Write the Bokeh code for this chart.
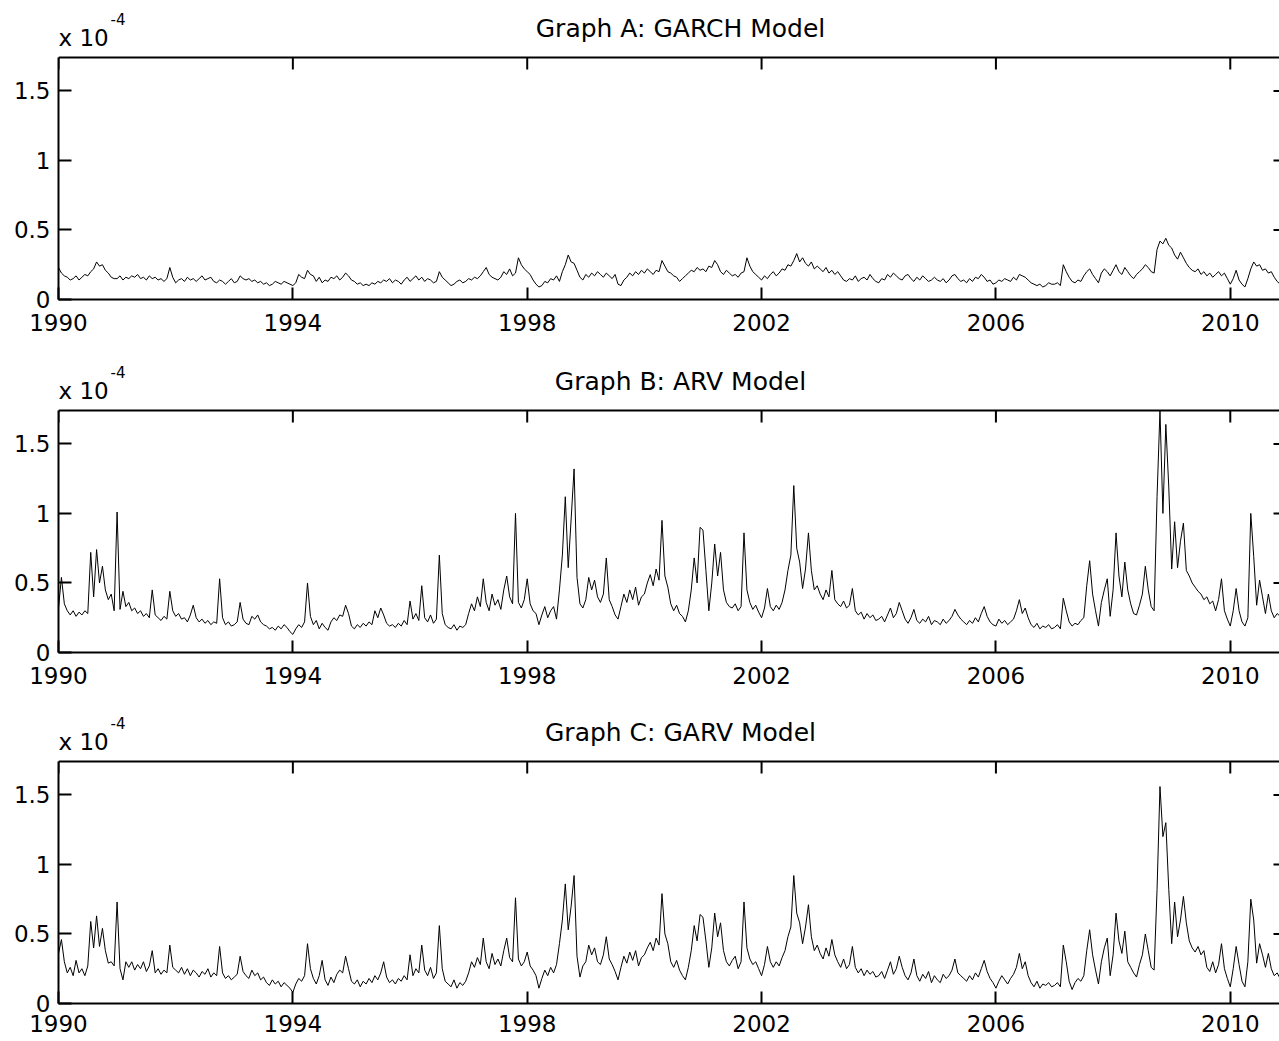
from bokeh.plotting import figure
from bokeh.layouts import column
from bokeh.models import Range1d, FixedTicker, Label, Span
from bokeh.embed import file_html
from bokeh.resources import INLINE

# ---------------- data (values in units of 1e-4), one row per year, 1990..2010 ----------------
START_YEAR = 1990

garch_rows = [
    [0.23,0.19,0.17,0.16,0.14,0.15,0.17,0.14,0.16,0.18,0.17,0.20,0.22,0.27,0.24,0.25,0.21,0.19,0.16,0.15],
    [0.15,0.17,0.14,0.16,0.15,0.17,0.16,0.18,0.15,0.16,0.14,0.17,0.15,0.16,0.14,0.15,0.13,0.15,0.23,0.16],
    [0.12,0.14,0.15,0.13,0.16,0.14,0.15,0.13,0.15,0.17,0.14,0.15,0.16,0.13,0.12,0.14,0.13,0.11,0.13,0.15],
    [0.12,0.13,0.17,0.15,0.14,0.15,0.13,0.14,0.12,0.13,0.11,0.12,0.10,0.11,0.13,0.12,0.11,0.13,0.12,0.11],
    [0.10,0.12,0.18,0.16,0.15,0.21,0.18,0.17,0.13,0.16,0.12,0.14,0.13,0.16,0.15,0.17,0.14,0.16,0.19,0.17],
    [0.14,0.13,0.11,0.12,0.10,0.11,0.10,0.12,0.11,0.13,0.12,0.14,0.13,0.15,0.12,0.14,0.13,0.11,0.14,0.16],
    [0.13,0.15,0.17,0.14,0.16,0.13,0.15,0.14,0.12,0.13,0.20,0.16,0.14,0.12,0.10,0.11,0.13,0.14,0.12,0.13],
    [0.15,0.14,0.16,0.15,0.17,0.20,0.23,0.18,0.16,0.15,0.14,0.16,0.20,0.18,0.22,0.17,0.19,0.30,0.25,0.22],
    [0.20,0.18,0.14,0.11,0.09,0.10,0.13,0.12,0.15,0.14,0.17,0.13,0.20,0.25,0.32,0.27,0.26,0.21,0.16,0.14],
    [0.18,0.16,0.19,0.17,0.20,0.18,0.16,0.19,0.17,0.15,0.18,0.11,0.10,0.14,0.16,0.19,0.17,0.20,0.18,0.21],
    [0.19,0.22,0.20,0.18,0.21,0.20,0.28,0.24,0.20,0.19,0.17,0.16,0.13,0.15,0.17,0.19,0.21,0.20,0.23,0.21],
    [0.22,0.20,0.24,0.23,0.28,0.25,0.20,0.18,0.21,0.19,0.17,0.18,0.16,0.19,0.20,0.30,0.24,0.20,0.18,0.16],
    [0.14,0.17,0.15,0.18,0.20,0.17,0.19,0.22,0.21,0.25,0.24,0.28,0.33,0.27,0.30,0.26,0.24,0.27,0.22,0.24],
    [0.22,0.20,0.23,0.19,0.21,0.18,0.20,0.17,0.14,0.13,0.15,0.14,0.17,0.13,0.15,0.16,0.14,0.18,0.15,0.13],
    [0.12,0.15,0.14,0.18,0.16,0.19,0.17,0.15,0.14,0.17,0.18,0.15,0.13,0.16,0.14,0.17,0.15,0.13,0.14,0.16],
    [0.14,0.13,0.15,0.12,0.14,0.17,0.18,0.15,0.13,0.14,0.12,0.15,0.13,0.16,0.15,0.18,0.16,0.13,0.14,0.11],
    [0.12,0.14,0.13,0.15,0.14,0.13,0.16,0.14,0.18,0.17,0.16,0.14,0.12,0.11,0.10,0.11,0.09,0.10,0.12,0.11],
    [0.11,0.12,0.10,0.25,0.20,0.16,0.13,0.12,0.14,0.13,0.17,0.20,0.22,0.18,0.15,0.12,0.19,0.22,0.20,0.17],
    [0.21,0.25,0.20,0.18,0.23,0.20,0.17,0.15,0.18,0.20,0.22,0.25,0.23,0.20,0.19,0.36,0.42,0.40,0.44,0.39],
    [0.37,0.32,0.29,0.34,0.30,0.26,0.23,0.21,0.20,0.22,0.18,0.20,0.17,0.19,0.16,0.18,0.20,0.17,0.19,0.15],
    [0.11,0.15,0.21,0.14,0.11,0.09,0.15,0.22,0.27,0.24,0.25,0.21,0.22,0.19,0.20,0.16,0.13,0.11,0.12,0.11],
]

arv_rows = [
    [0.32,0.54,0.35,0.30,0.27,0.30,0.26,0.29,0.27,0.30,0.28,0.72,0.40,0.74,0.50,0.62,0.45,0.38,0.42,0.30],
    [1.01,0.31,0.44,0.33,0.36,0.30,0.32,0.28,0.30,0.26,0.28,0.25,0.45,0.27,0.25,0.23,0.26,0.24,0.44,0.30],
    [0.26,0.28,0.24,0.25,0.22,0.27,0.34,0.25,0.22,0.24,0.21,0.23,0.20,0.22,0.21,0.53,0.25,0.20,0.22,0.19],
    [0.20,0.22,0.36,0.24,0.21,0.20,0.26,0.24,0.27,0.22,0.20,0.19,0.17,0.18,0.16,0.19,0.17,0.20,0.18,0.15],
    [0.13,0.17,0.20,0.18,0.22,0.50,0.26,0.20,0.23,0.17,0.21,0.18,0.16,0.22,0.25,0.23,0.27,0.26,0.34,0.28],
    [0.19,0.17,0.20,0.18,0.21,0.19,0.22,0.20,0.30,0.25,0.32,0.27,0.21,0.19,0.20,0.18,0.21,0.19,0.23,0.20],
    [0.37,0.24,0.28,0.23,0.48,0.25,0.22,0.27,0.21,0.24,0.70,0.28,0.20,0.18,0.17,0.20,0.16,0.19,0.18,0.20],
    [0.28,0.35,0.30,0.40,0.33,0.53,0.36,0.30,0.42,0.34,0.38,0.31,0.45,0.55,0.40,0.35,1.00,0.36,0.32,0.38],
    [0.53,0.35,0.30,0.28,0.20,0.27,0.33,0.25,0.30,0.33,0.24,0.45,0.70,1.12,0.61,0.96,1.32,0.54,0.35,0.32],
    [0.38,0.54,0.45,0.52,0.40,0.36,0.42,0.68,0.38,0.33,0.27,0.24,0.33,0.42,0.36,0.45,0.38,0.47,0.34,0.40],
    [0.42,0.50,0.56,0.48,0.60,0.52,0.95,0.55,0.47,0.35,0.30,0.34,0.28,0.26,0.22,0.30,0.45,0.68,0.50,0.90],
    [0.88,0.59,0.30,0.50,0.78,0.55,0.72,0.45,0.36,0.33,0.32,0.35,0.30,0.33,0.86,0.45,0.36,0.31,0.34,0.29],
    [0.25,0.32,0.46,0.33,0.30,0.34,0.31,0.36,0.45,0.59,0.70,1.20,0.75,0.65,0.46,0.60,0.86,0.59,0.45,0.48],
    [0.42,0.38,0.45,0.40,0.59,0.38,0.35,0.33,0.37,0.32,0.34,0.46,0.30,0.27,0.29,0.24,0.28,0.25,0.27,0.23],
    [0.24,0.26,0.22,0.27,0.32,0.25,0.28,0.36,0.30,0.24,0.21,0.25,0.31,0.23,0.21,0.24,0.22,0.26,0.20,0.23],
    [0.22,0.20,0.24,0.21,0.23,0.26,0.31,0.27,0.24,0.22,0.20,0.23,0.21,0.25,0.22,0.28,0.33,0.26,0.22,0.20],
    [0.19,0.24,0.21,0.23,0.20,0.22,0.24,0.30,0.38,0.28,0.32,0.25,0.20,0.18,0.21,0.17,0.19,0.18,0.20,0.17],
    [0.18,0.20,0.17,0.39,0.30,0.22,0.19,0.21,0.20,0.23,0.25,0.48,0.66,0.42,0.30,0.19,0.36,0.45,0.53,0.26],
    [0.45,0.86,0.55,0.40,0.65,0.45,0.35,0.28,0.27,0.34,0.42,0.62,0.45,0.33,0.30,1.12,1.74,1.00,1.64,1.19],
    [0.60,0.94,0.61,0.80,0.93,0.59,0.55,0.50,0.47,0.44,0.42,0.38,0.40,0.35,0.37,0.30,0.38,0.53,0.30,0.24],
    [0.19,0.30,0.46,0.30,0.22,0.19,0.25,1.00,0.69,0.34,0.52,0.40,0.28,0.42,0.30,0.25,0.28,0.26,0.27,0.25],
]

garv_rows = [
    [0.36,0.46,0.30,0.22,0.26,0.20,0.31,0.22,0.25,0.20,0.27,0.59,0.40,0.63,0.41,0.54,0.38,0.29,0.30,0.27],
    [0.73,0.25,0.17,0.30,0.26,0.30,0.24,0.28,0.25,0.30,0.23,0.27,0.38,0.22,0.25,0.21,0.24,0.22,0.42,0.26],
    [0.24,0.22,0.26,0.21,0.25,0.20,0.24,0.22,0.19,0.23,0.21,0.25,0.19,0.22,0.20,0.41,0.22,0.18,0.20,0.17],
    [0.19,0.21,0.34,0.23,0.20,0.18,0.24,0.20,0.22,0.17,0.19,0.15,0.13,0.17,0.14,0.16,0.12,0.15,0.13,0.11],
    [0.08,0.14,0.18,0.16,0.20,0.43,0.25,0.18,0.14,0.20,0.31,0.17,0.13,0.19,0.15,0.21,0.24,0.22,0.34,0.25],
    [0.16,0.14,0.17,0.12,0.16,0.14,0.18,0.15,0.20,0.17,0.22,0.30,0.19,0.15,0.17,0.14,0.18,0.16,0.20,0.17],
    [0.35,0.20,0.25,0.22,0.42,0.24,0.20,0.26,0.18,0.22,0.56,0.25,0.16,0.14,0.12,0.17,0.11,0.15,0.13,0.16],
    [0.22,0.30,0.26,0.33,0.28,0.47,0.30,0.25,0.36,0.28,0.32,0.27,0.38,0.47,0.33,0.30,0.76,0.32,0.27,0.30],
    [0.37,0.27,0.24,0.20,0.11,0.18,0.24,0.20,0.26,0.22,0.28,0.43,0.60,0.86,0.53,0.70,0.92,0.34,0.19,0.27],
    [0.30,0.42,0.35,0.40,0.30,0.28,0.35,0.48,0.32,0.28,0.23,0.17,0.26,0.34,0.29,0.37,0.31,0.38,0.27,0.33],
    [0.35,0.40,0.44,0.38,0.47,0.42,0.79,0.50,0.43,0.30,0.26,0.31,0.24,0.20,0.17,0.26,0.38,0.56,0.45,0.64],
    [0.62,0.45,0.26,0.40,0.65,0.48,0.58,0.38,0.30,0.27,0.31,0.34,0.25,0.30,0.73,0.40,0.32,0.28,0.30,0.25],
    [0.20,0.28,0.41,0.30,0.26,0.30,0.27,0.33,0.38,0.48,0.55,0.92,0.65,0.58,0.43,0.55,0.71,0.48,0.38,0.42],
    [0.36,0.32,0.40,0.34,0.46,0.35,0.30,0.26,0.32,0.25,0.28,0.41,0.26,0.22,0.25,0.20,0.24,0.21,0.23,0.19],
    [0.20,0.23,0.18,0.24,0.30,0.21,0.25,0.34,0.26,0.20,0.17,0.22,0.32,0.20,0.16,0.21,0.18,0.23,0.15,0.20],
    [0.17,0.15,0.21,0.18,0.20,0.24,0.32,0.22,0.20,0.18,0.16,0.20,0.17,0.22,0.19,0.25,0.31,0.23,0.18,0.15],
    [0.11,0.16,0.20,0.17,0.14,0.18,0.21,0.26,0.36,0.25,0.30,0.20,0.15,0.12,0.16,0.11,0.14,0.13,0.15,0.12],
    [0.13,0.15,0.12,0.42,0.30,0.16,0.10,0.15,0.18,0.16,0.20,0.38,0.53,0.35,0.24,0.14,0.30,0.40,0.47,0.20],
    [0.35,0.65,0.45,0.36,0.52,0.30,0.26,0.22,0.19,0.28,0.35,0.50,0.38,0.26,0.24,0.82,1.56,1.20,1.30,0.82],
    [0.43,0.73,0.48,0.60,0.77,0.58,0.45,0.40,0.37,0.41,0.35,0.38,0.26,0.23,0.30,0.22,0.28,0.43,0.25,0.18],
    [0.12,0.25,0.41,0.28,0.16,0.12,0.30,0.75,0.60,0.29,0.43,0.35,0.26,0.36,0.25,0.20,0.22,0.18,0.21,0.19],
]

titles = ["Graph A: GARCH Model", "Graph B: ARV Model", "Graph C: GARV Model"]
year_ticks = [1990, 1994, 1998, 2002, 2006, 2010]
y_ticks = [0, 0.5, 1, 1.5]
y_tick_labels = ["0", "0.5", "1", "1.5"]
exponent_text = ("x 10", "-4")

# ---------------- layout / style ----------------
FONT = "DejaVu Sans"
W = 1279
LEFT = 58                     # frame starts here; the box's right edge lies beyond the page
HEIGHTS = [352, 352, 337]     # canvas heights of the three panels
BOTTOMS = [53, 52, 38]        # space under each box for the year labels
STANDOFFS = [14, 14, 11]
XMIN, XMAX = 1990.0, 2010.84
BOX_TOP = 1.74                # top of the drawn box (x 1e-4)
PX_X = (W - LEFT) / (XMAX - XMIN)
PX_Y = 242 / BOX_TOP


def series_xy(rows):
    xs, ys = [], []
    for k, row in enumerate(rows):
        n = len(row)
        for j, v in enumerate(row):
            xs.append(START_YEAR + k + j / n)
            ys.append(v)
    return xs, ys


def style_axis(ax, ticks, tick_in):
    ax.ticker = FixedTicker(ticks=ticks, minor_ticks=[])
    ax.axis_line_color = "black"
    ax.axis_line_width = 2
    ax.major_tick_line_color = "black"
    ax.major_tick_line_width = 2
    ax.major_tick_in = tick_in
    ax.major_tick_out = 0
    ax.minor_tick_in = 0
    ax.minor_tick_out = 0
    ax.axis_label = None
    ax.major_label_text_font = FONT
    ax.major_label_text_color = "black"


def text_label(x_px, above_px, text, size, align="left"):
    # x_px: page x of the anchor; above_px: height of the text's middle above the box top
    return Label(x=XMIN + (x_px - LEFT) / PX_X, y=BOX_TOP + above_px / PX_Y, text=text,
                 text_align=align, text_baseline="middle", text_font=FONT,
                 text_font_size=f"{size}px", text_color="black")


def make_panel(title, rows, height, bottom, standoff):
    frame_h = height - bottom
    p = figure(width=W, height=height, output_backend="svg", toolbar_location=None,
               title=None,
               x_range=Range1d(XMIN, XMAX), y_range=Range1d(0, frame_h / PX_Y),
               min_border_left=LEFT, min_border_right=0, min_border_top=0,
               min_border_bottom=bottom)
    p.outline_line_color = None
    p.background_fill_color = "white"
    p.border_fill_color = "white"
    p.xgrid.visible = False
    p.ygrid.visible = False

    xa = p.xaxis[0]
    style_axis(xa, year_ticks, 12)
    xa.major_label_text_font_size = "23px"
    xa.major_label_standoff = standoff

    ya = p.yaxis[0]
    style_axis(ya, y_ticks, 13)
    ya.bounds = (0, BOX_TOP)
    ya.major_label_overrides = {t: s for t, s in zip(y_ticks, y_tick_labels)}
    ya.major_label_text_font_size = "23px"
    ya.major_label_standoff = 8

    # top edge of the box and its inward ticks
    p.add_layout(Span(location=BOX_TOP, dimension="width", line_color="black", line_width=2))
    dy = 12 / PX_Y
    p.segment(x0=year_ticks, y0=[BOX_TOP - dy] * len(year_ticks), x1=year_ticks,
              y1=[BOX_TOP] * len(year_ticks), line_color="black", line_width=2)

    # right edge ticks (the box's right edge lies just beyond the page)
    dx = 6 / PX_X
    yt = y_ticks[1:]
    p.segment(x0=[XMAX - dx] * len(yt), y0=yt, x1=[XMAX] * len(yt), y1=yt,
              line_color="black", line_width=2)

    xs, ys = series_xy(rows)
    p.line(xs, ys, line_color="black", line_width=1)

    p.add_layout(text_label(680, 20 + 0.35 * 25, title, 25, align="center"))
    p.add_layout(text_label(58, 11.5 + 0.35 * 23, exponent_text[0], 23))
    p.add_layout(text_label(110, 33 + 0.35 * 15, exponent_text[1], 15))
    return p


panels = [make_panel(t, r, h, b, s) for t, r, h, b, s in
          zip(titles, [garch_rows, arv_rows, garv_rows], HEIGHTS, BOTTOMS, STANDOFFS)]
layout = column(*panels, spacing=0)

open("out.html", "w").write(file_html(layout, INLINE))
